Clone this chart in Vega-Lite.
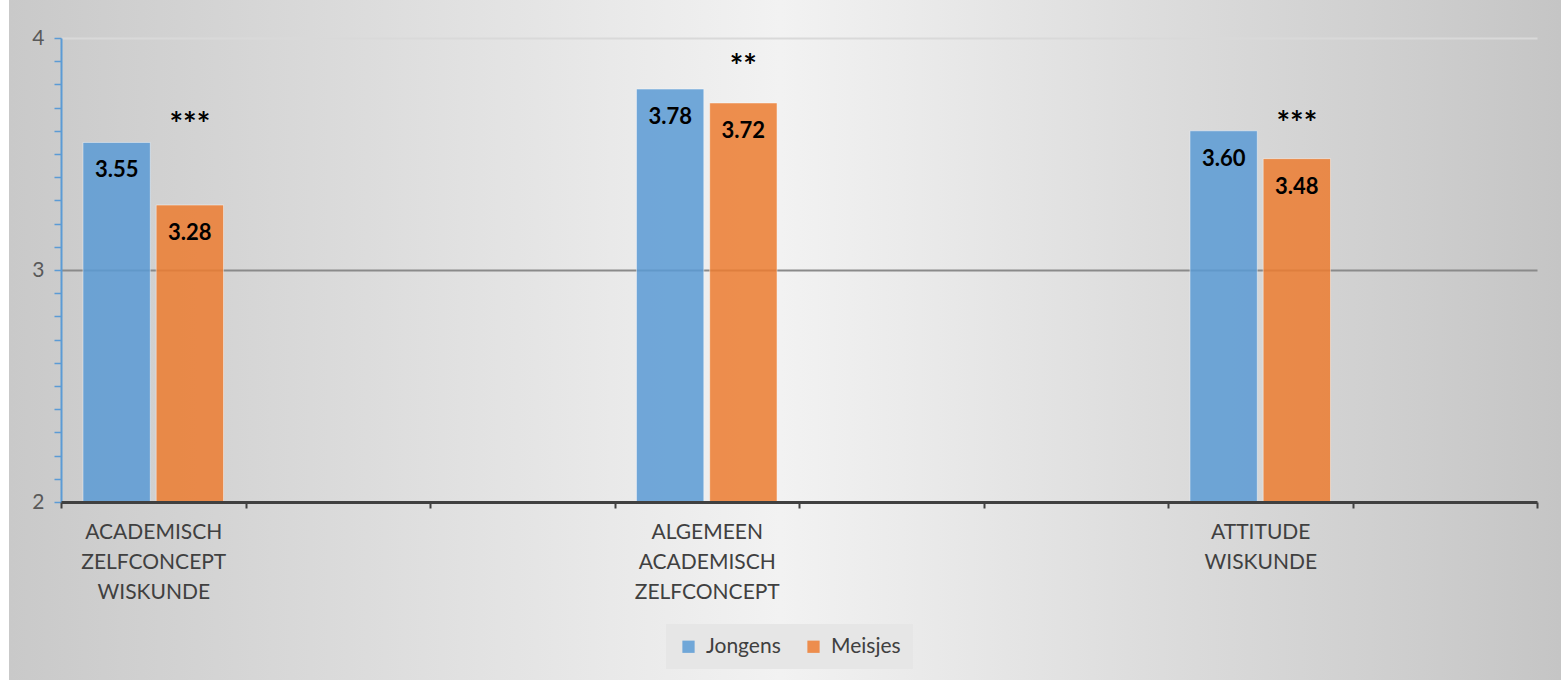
{
  "$schema": "https://vega.github.io/schema/vega-lite/v6.json",
  "width": 1561,
  "height": 680,
  "padding": 0,
  "autosize": {"type": "none"},
  "background": "#ffffff",
  "config": {
    "font": "Lato",
    "view": {
      "stroke": null,
      "fill": {
        "gradient": "linear",
        "x1": 0, "y1": 0, "x2": 1, "y2": 0,
        "stops": [
          {"offset": 0, "color": "#ffffff"},
          {"offset": 0.0055, "color": "#ffffff"},
          {"offset": 0.006, "color": "#c9c9c9"},
          {"offset": 0.5, "color": "#f2f2f2"},
          {"offset": 1, "color": "#c5c5c5"}
        ]
      }
    }
  },
  "datasets": {
    "scores": [
      {"categorie": "ACADEMISCH ZELFCONCEPT WISKUNDE", "geslacht": "Jongens", "score": 3.55},
      {"categorie": "ACADEMISCH ZELFCONCEPT WISKUNDE", "geslacht": "Meisjes", "score": 3.28},
      {"categorie": "ALGEMEEN ACADEMISCH ZELFCONCEPT", "geslacht": "Jongens", "score": 3.78},
      {"categorie": "ALGEMEEN ACADEMISCH ZELFCONCEPT", "geslacht": "Meisjes", "score": 3.72},
      {"categorie": "ATTITUDE WISKUNDE", "geslacht": "Jongens", "score": 3.60},
      {"categorie": "ATTITUDE WISKUNDE", "geslacht": "Meisjes", "score": 3.48}
    ],
    "sterren": [
      {"categorie": "ACADEMISCH ZELFCONCEPT WISKUNDE", "geslacht": "Meisjes", "hoogte": 3.655, "significantie": "***"},
      {"categorie": "ALGEMEEN ACADEMISCH ZELFCONCEPT", "geslacht": "Meisjes", "hoogte": 3.905, "significantie": "**"},
      {"categorie": "ATTITUDE WISKUNDE", "geslacht": "Meisjes", "hoogte": 3.66, "significantie": "***"}
    ]
  },
  "encoding": {
    "x": {
      "field": "categorie",
      "type": "nominal",
      "scale": {
        "domain": ["ACADEMISCH ZELFCONCEPT WISKUNDE", " ", "  ", "ALGEMEEN ACADEMISCH ZELFCONCEPT", "   ", "    ", "ATTITUDE WISKUNDE", "     "],
        "range": [61, 1537],
        "paddingInner": 0,
        "paddingOuter": 0
      },
      "axis": {
        "title": null,
        "orient": "bottom",
        "offset": -178,
        "zindex": 1,
        "grid": false,
        "domainColor": "#404040",
        "domainWidth": 3,
        "tickColor": "#404040",
        "tickWidth": 2,
        "tickSize": 6,
        "tickBand": "extent",
        "labelExpr": "split(datum.label, ' ')",
        "labelFont": "Lato",
        "labelFontSize": 21,
        "labelColor": "#404040",
        "labelLineHeight": 30,
        "labelPadding": 13,
        "labelAngle": 0,
        "labelOverlap": false,
        "labelBound": false
      }
    },
    "xOffset": {
      "field": "geslacht",
      "type": "nominal",
      "scale": {"domain": ["Jongens", "Meisjes"], "paddingInner": 0.08, "paddingOuter": 0.3}
    },
    "y": {
      "field": "score",
      "type": "quantitative",
      "scale": {"domain": [2, 4], "range": [502, 38], "zero": false, "nice": false},
      "axis": {
        "title": null,
        "offset": -61,
        "values": [2, 2.1, 2.2, 2.3, 2.4, 2.5, 2.6, 2.7, 2.8, 2.9, 3, 3.1, 3.2, 3.3, 3.4, 3.5, 3.6, 3.7, 3.8, 3.9, 4],
        "format": ".0f",
        "labelExpr": "datum.value == 2 || datum.value == 3 || datum.value == 4 ? datum.label : ''",
        "labelOverlap": false,
        "labelFont": "Lato",
        "labelFontSize": 21,
        "labelColor": "#595959",
        "labelPadding": 10,
        "domainColor": "#5B9BD5",
        "domainWidth": 2,
        "tickColor": "#5B9BD5",
        "tickWidth": 1.5,
        "tickSize": 7,
        "grid": true,
        "gridColor": {"condition": {"test": "datum.value == 3", "value": "#8a8a8a"}, "value": "#d9d9d9"},
        "gridOpacity": {"condition": {"test": "datum.value == 3 || datum.value == 4", "value": 1}, "value": 0},
        "gridWidth": {"condition": {"test": "datum.value == 3", "value": 2}, "value": 2}
      }
    }
  },
  "layer": [
    {
      "data": {"name": "scores"},
      "mark": {"type": "bar", "opacity": 0.85, "stroke": "#ffffff", "strokeOpacity": 0.5, "strokeWidth": 1},
      "encoding": {
        "y2": {"datum": 2},
        "color": {
          "field": "geslacht",
          "type": "nominal",
          "scale": {"domain": ["Jongens", "Meisjes"], "range": ["#5B9BD5", "#ED7D31"]},
          "legend": {
            "title": null,
            "orient": "none",
            "legendX": 666,
            "legendY": 624,
            "direction": "horizontal",
            "symbolType": "square",
            "symbolSize": 150,
            "symbolStrokeWidth": 0,
            "labelFont": "Lato",
            "labelFontSize": 21,
            "labelColor": "#404040",
            "labelOffset": 7,
            "columnPadding": 22,
            "fillColor": "#e6e6e6",
            "padding": 12
          }
        }
      }
    },
    {
      "data": {"name": "scores"},
      "mark": {"type": "text", "font": "Lato", "fontWeight": "bold", "fontSize": 22, "baseline": "middle", "dy": 28, "color": "#000000"},
      "encoding": {
        "text": {"field": "score", "type": "quantitative", "format": ".2f"}
      }
    },
    {
      "data": {"name": "sterren"},
      "mark": {"type": "text", "font": "Lato", "fontWeight": "bold", "fontSize": 32, "baseline": "middle", "dy": 8, "color": "#000000"},
      "encoding": {
        "y": {"field": "hoogte", "type": "quantitative"},
        "text": {"field": "significantie", "type": "nominal"}
      }
    }
  ]
}
